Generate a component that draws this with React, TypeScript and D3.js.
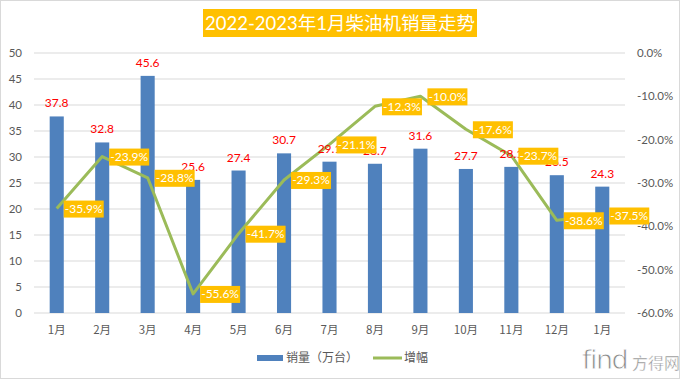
import React from "react";
import * as d3 from "d3";

const months = ["1月", "2月", "3月", "4月", "5月", "6月", "7月", "8月", "9月", "10月", "11月", "12月", "1月"];
const sales = [37.8, 32.8, 45.6, 25.6, 27.4, 30.7, 29.1, 28.7, 31.6, 27.7, 28.1, 26.5, 24.3];
const growth = [-35.9, -23.9, -28.8, -55.6, -41.7, -29.3, -21.1, -12.3, -10.0, -17.6, -23.7, -38.6, -37.5];
const leftTicks = [0, 5, 10, 15, 20, 25, 30, 35, 40, 45, 50];
const rightTicks = [0, -10, -20, -30, -40, -50, -60];
const title = "2022-2023年1月柴油机销量走势";
const seriesNames = ["销量（万台）", "增幅"];

const W = 680, H = 379;
const FONT = "Lato, 'Noto Sans CJK SC', sans-serif";
const CJK = "'Noto Sans CJK SC', sans-serif";

export default function App() {
  const x = d3.scaleBand<number>()
    .domain(months.map((_, i) => i))
    .range([34, 625])
    .paddingInner(0.69)
    .paddingOuter(0.345);
  const yL = d3.scaleLinear().domain([0, 50]).range([313, 53]);
  const yR = d3.scaleLinear().domain([-60, 0]).range([313, 53]);
  const cx = (i: number) => (x(i) as number) + x.bandwidth() / 2;
  const line = d3.line<number>().x((_, i) => cx(i)).y((d) => yR(d));

  return (
    <svg width={W} height={H} style={{ position: "absolute", left: 0, top: 0 }} fontFamily={FONT}>
      <rect x={0} y={0} width={W} height={H} fill="#fff" />
      <rect x={0.5} y={0.5} width={W - 1} height={H - 1} fill="none" stroke="#d9d9d9" />
      {/* title */}
      <rect x={203} y={9} width={274} height={28} fill="#FFC000" />
      <text x={340} y={30} textAnchor="middle" fill="#fff" fontSize={18.5} fontFamily={FONT}>{title}</text>
      {/* grid */}
      {leftTicks.map((t) => (
        <line key={"g" + t} x1={34} x2={625} y1={yL(t)} y2={yL(t)} stroke="#d9d9d9" strokeWidth={1} />
      ))}
      {leftTicks.map((t) => (
        <text key={"l" + t} x={22} y={yL(t) + 4} textAnchor="end" fontSize={11.5} fill="#595959">{t}</text>
      ))}
      {rightTicks.map((t) => (
        <text key={"r" + t} x={637} y={yR(t) + 4} textAnchor="start" fontSize={11.5} fill="#595959">{t.toFixed(1) + "%"}</text>
      ))}
      {/* bars */}
      {sales.map((v, i) => (
        <rect key={"b" + i} x={x(i)} y={yL(v)} width={x.bandwidth()} height={yL(0) - yL(v)} fill="#4F81BD" />
      ))}
      {months.map((m, i) => (
        <text key={"m" + i} x={cx(i)} y={334} textAnchor="middle" fontSize={11.5} fill="#595959" fontFamily={CJK}>{m}</text>
      ))}
      {/* line */}
      <path d={line(growth) || ""} fill="none" stroke="#9BBB59" strokeWidth={3} strokeLinejoin="round" />
      {/* bar labels */}
      {sales.map((v, i) => (
        <text key={"bl" + i} x={cx(i)} y={yL(v) - 9} textAnchor="middle" fontSize={12} fill="#FF0000">{v.toFixed(1)}</text>
      ))}
      {/* growth labels */}
      {growth.map((v, i) => (
        <g key={"gl" + i}>
          <rect x={cx(i) + 7} y={yR(v) - 8} width={40} height={17} fill="#FFC000" />
          <text x={cx(i) + 27} y={yR(v) + 4.5} textAnchor="middle" fontSize={12} fill="#fff">{v.toFixed(1) + "%"}</text>
        </g>
      ))}
      {/* legend */}
      <rect x={257} y={355} width={26} height={6} fill="#4F81BD" />
      <text x={286} y={362} fontSize={12} fill="#595959" fontFamily={CJK}>{seriesNames[0]}</text>
      <line x1={373} x2={402} y1={358} y2={358} stroke="#9BBB59" strokeWidth={3} />
      <text x={404} y={362} fontSize={12} fill="#595959" fontFamily={CJK}>{seriesNames[1]}</text>
      {/* watermark */}
      <text x={582} y={369} fontSize={27} fill="#8a8a8a" stroke="#fff" strokeWidth={0.8} fontFamily="'DejaVu Sans', sans-serif" letterSpacing={-1.5}>find</text>
      <text x={632} y={369} fontSize={16} fill="#8a8a8a" stroke="#fff" strokeWidth={0.4} fontFamily={CJK}>方得网</text>
    </svg>
  );
}
